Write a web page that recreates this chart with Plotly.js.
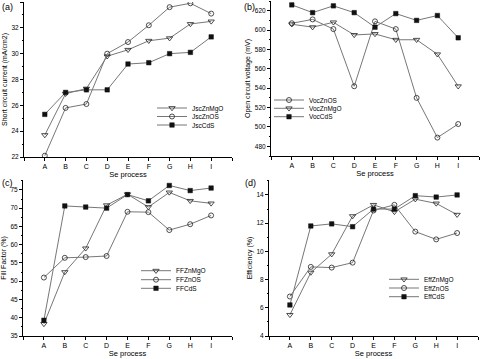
<!DOCTYPE html>
<html><head><meta charset="utf-8">
<script src="https://cdn.plot.ly/plotly-3.0.1.min.js"></script>
<style>html,body{margin:0;padding:0;background:#fff}#chart{width:480px;height:359px}</style>
</head><body><div id="chart"></div>
<script>
const categories = ['A','B','C','D','E','F','G','H','I'];
const jscZnMgO = [23.7, 26.9, 27.3, 29.8, 30.3, 31.0, 31.2, 32.3, 32.5];
const jscZnOS  = [22.1, 25.8, 26.1, 30.0, 30.9, 32.2, 33.6, 33.9, 33.1];
const jscCdS   = [25.3, 27.0, 27.2, 27.2, 29.2, 29.3, 30.0, 30.1, 31.3];
const vocZnOS  = [607, 611, 601, 542, 609, 601, 530, 489, 503];
const vocZnMgO = [606, 603, 608, 595, 596, 590, 590, 575, 542];
const vocCdS   = [626, 618, 625, 618, 603, 617, 610, 615, 592];
const ffZnMgO  = [38.3, 52.5, 59.0, 70.8, 73.8, 70.3, 74.3, 72.0, 71.3];
const ffZnOS   = [51.0, 56.4, 56.6, 56.9, 69.0, 68.9, 64.0, 65.6, 68.0];
const ffCdS    = [39.3, 70.6, 70.3, 70.0, 73.7, 72.0, 76.2, 74.8, 75.5];
const effZnMgO = [5.5, 8.5, 9.8, 12.5, 13.3, 12.8, 13.7, 13.4, 12.6];
const effZnOS  = [6.8, 8.9, 8.85, 9.2, 12.9, 13.3, 11.4, 10.85, 11.3];
const effCdS   = [6.2, 11.8, 11.95, 11.75, 13.0, 13.0, 13.95, 13.85, 14.0];

const xIdx = categories.map((c,i)=>i);
const tickvals = [-1].concat(xIdx).concat([9]);
const ticktext = [''].concat(categories).concat(['']);
const FONT = 'Liberation Sans, Arial, sans-serif';

const mk = {
  tri: {symbol:'triangle-down-open', size:5.5, color:'#222', line:{width:0.8,color:'#222'}},
  cir: {symbol:'circle-open', size:5, color:'#222', line:{width:0.8,color:'#222'}},
  sq:  {symbol:'square', size:4.5, color:'#111', line:{width:0.5,color:'#111'}}
};
let legN = 0;
function tr(name, y, m, xa, ya){
  legN++;
  return {x:xIdx, y:y, name:name, type:'scatter', mode:'lines+markers',
    line:{color:'#777', width:1}, marker:mk[m], xaxis:xa, yaxis:ya,
    legend: legN===1 ? 'legend' : 'legend'+legN};
}
const data = [
  tr('JscZnMgO', jscZnMgO, 'tri', 'x', 'y'),
  tr('JscZnOS', jscZnOS, 'cir', 'x', 'y'),
  tr('JscCdS', jscCdS, 'sq', 'x', 'y'),
  tr('VocZnOS', vocZnOS, 'cir', 'x2', 'y2'),
  tr('VocZnMgO', vocZnMgO, 'tri', 'x2', 'y2'),
  tr('VocCdS', vocCdS, 'sq', 'x2', 'y2'),
  tr('FFZnMgO', ffZnMgO, 'tri', 'x3', 'y3'),
  tr('FFZnOS', ffZnOS, 'cir', 'x3', 'y3'),
  tr('FFCdS', ffCdS, 'sq', 'x3', 'y3'),
  tr('EffZnMgO', effZnMgO, 'tri', 'x4', 'y4'),
  tr('EffZnOS', effZnOS, 'cir', 'x4', 'y4'),
  tr('EffCdS', effCdS, 'sq', 'x4', 'y4')
];

const W=480, H=359;
function dx(a,b){return [a/W, b/W];}
function dy(top,bot){return [1-bot/H, 1-top/H];}
function xax(dom, anchor){
  return {domain:dom, anchor:anchor, range:[-1,9], tickvals:tickvals, ticktext:ticktext,
    showline:true, linecolor:'#000', linewidth:1, ticks:'outside', ticklen:3, tickwidth:1, tickcolor:'#000',
    showgrid:false, zeroline:false, tickfont:{family:FONT, size:7, color:'#000'},
    title:{text:'Se process', font:{family:FONT, size:7.5, color:'#000'}, standoff:1}, automargin:false};
}
function yax(dom, anchor, range, dtick, title){
  return {domain:dom, anchor:anchor, range:range, dtick:dtick, tick0:0,
    showline:true, linecolor:'#000', linewidth:1, ticks:'outside', ticklen:3, tickwidth:1, tickcolor:'#000',
    minor:{dtick:dtick/2, ticks:'outside', ticklen:1.5, tickcolor:'#000', tickwidth:1},
    showgrid:false, zeroline:false, tickfont:{family:FONT, size:6.5, color:'#000'},
    title:{text:title, font:{family:FONT, size:7, color:'#000'}, standoff:3}, automargin:false};
}
function leg(textX, rowY){
  return {x:(textX-43)/W, y:1-rowY/H, xanchor:'left', yanchor:'middle', bgcolor:'rgba(0,0,0,0)',
    font:{family:FONT, size:6.5, color:'#000'}, tracegroupgap:0, borderwidth:0};
}
const legPos = [
  [195,108],[195,116.5],[195,125],
  [312,100],[312,108.3],[312,116.7],
  [179,270.7],[179,279.7],[179,288.3],
  [427,279.3],[427,288],[427,296.7]
];
const layout = {
  width:W, height:H, margin:{l:0,r:0,t:0,b:0}, paper_bgcolor:'#fff', plot_bgcolor:'#fff',
  showlegend:true,
  xaxis: xax(dx(24,232),'y'),
  yaxis: yax(dy(2,157),'x',[22,34],2,'Short circuit current (mA/cm2)'),
  xaxis2: xax(dx(271,479),'y2'),
  yaxis2: yax(dy(1,156),'x2',[470,630],20,'Open circuit voltage (mV)'),
  xaxis3: xax(dx(23,232),'y3'),
  yaxis3: yax(dy(180,336),'x3',[35,77.7],5,'Fill Factor (%)'),
  xaxis4: xax(dx(269,478),'y4'),
  yaxis4: yax(dy(180,336),'x4',[4,15.06],2,'Efficiency (%)'),
  annotations: [
    {text:'(a)', x:0, y:1-0/H, xref:'paper', yref:'paper', xanchor:'left', yanchor:'top', showarrow:false, font:{family:FONT,size:9,color:'#000'}},
    {text:'(b)', x:242/W, y:1-0/H, xref:'paper', yref:'paper', xanchor:'left', yanchor:'top', showarrow:false, font:{family:FONT,size:9,color:'#000'}},
    {text:'(c)', x:0, y:1-176/H, xref:'paper', yref:'paper', xanchor:'left', yanchor:'top', showarrow:false, font:{family:FONT,size:9,color:'#000'}},
    {text:'(d)', x:243/W, y:1-176/H, xref:'paper', yref:'paper', xanchor:'left', yanchor:'top', showarrow:false, font:{family:FONT,size:9,color:'#000'}}
  ]
};
legPos.forEach((p,i)=>{ layout[i===0?'legend':'legend'+(i+1)] = leg(p[0],p[1]); });
Plotly.newPlot('chart', data, layout, {displayModeBar:false, staticPlot:true});
</script></body></html>
